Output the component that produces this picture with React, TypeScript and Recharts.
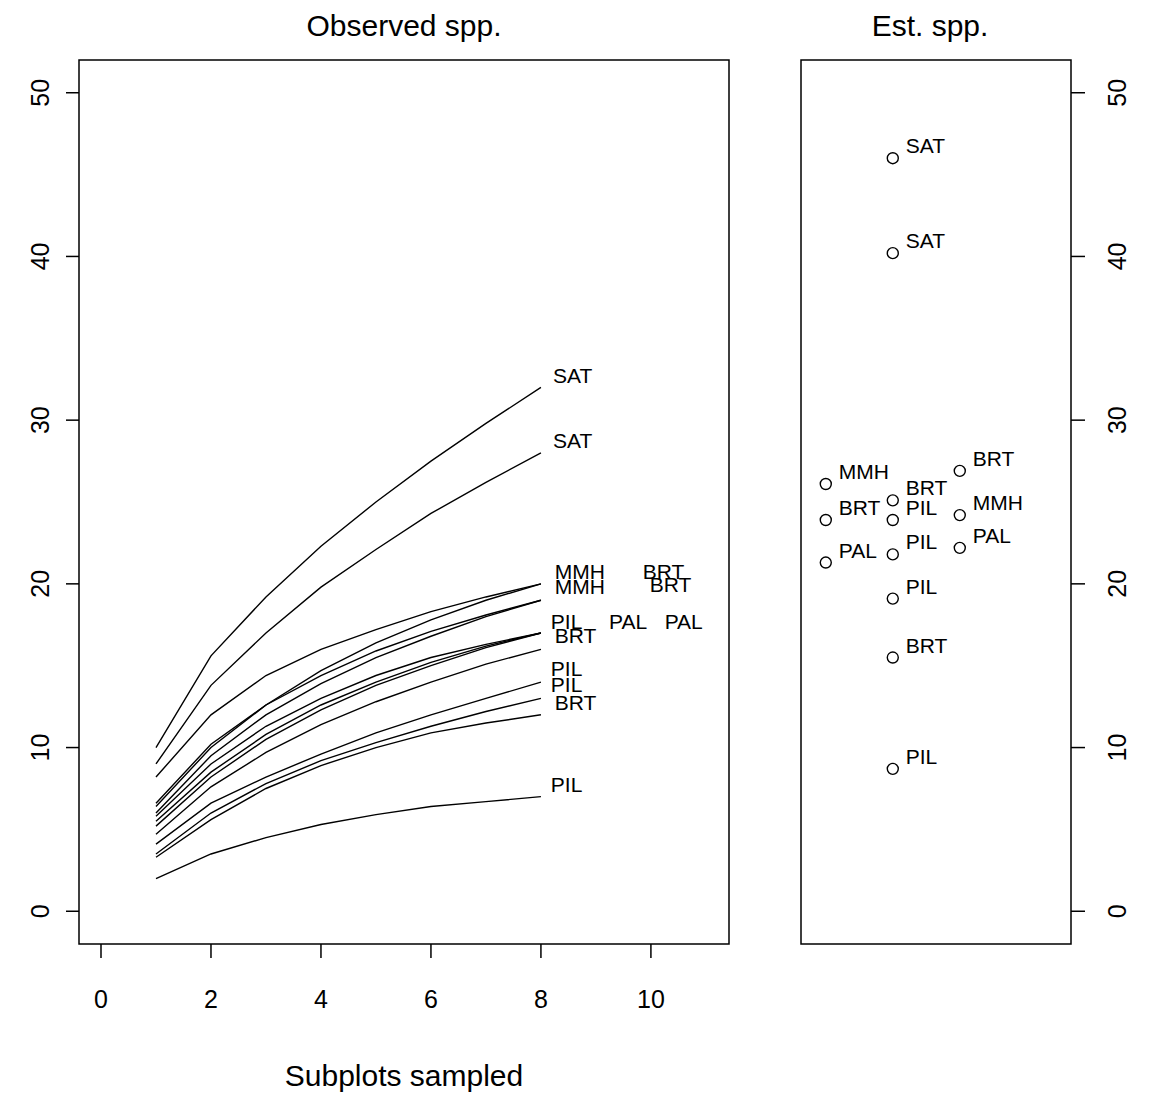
import React from 'react';
import { ComposedChart, Line, XAxis, YAxis, Scatter, ReferenceArea } from 'recharts';

// ---------- data ----------
const subplots = [1, 2, 3, 4, 5, 6, 7, 8];

const curveSAT1 = [10.0, 15.6, 19.2, 22.3, 25.0, 27.5, 29.8, 32.0];
const curveSAT2 = [9.0, 13.8, 17.0, 19.8, 22.1, 24.3, 26.2, 28.0];
const curveA = [6.4, 10.0, 12.6, 14.7, 16.4, 17.8, 19.0, 20.0];
const curveB = [8.2, 12.0, 14.4, 16.0, 17.2, 18.3, 19.2, 20.0];
const curveC = [6.6, 10.2, 12.6, 14.4, 15.9, 17.1, 18.1, 19.0];
const curveD = [6.0, 9.5, 12.0, 13.9, 15.5, 16.8, 18.0, 19.0];
const curveE = [5.8, 9.0, 11.3, 13.0, 14.4, 15.5, 16.3, 17.0];
const curveF = [5.5, 8.5, 10.8, 12.6, 14.0, 15.2, 16.2, 17.0];
const curveG = [5.2, 8.2, 10.5, 12.3, 13.8, 15.0, 16.1, 17.0];
const curveH = [4.7, 7.6, 9.7, 11.4, 12.8, 14.0, 15.1, 16.0];
const curveI = [4.1, 6.6, 8.2, 9.6, 10.9, 12.0, 13.0, 14.0];
const curveJ = [3.5, 6.0, 7.8, 9.2, 10.3, 11.3, 12.2, 13.0];
const curveK = [3.3, 5.6, 7.5, 8.9, 10.0, 10.9, 11.5, 12.0];
const curveL = [2.0, 3.5, 4.5, 5.3, 5.9, 6.4, 6.7, 7.0];

const curves = [curveSAT1, curveSAT2, curveA, curveB, curveC, curveD, curveE, curveF, curveG, curveH, curveI, curveJ, curveK, curveL];

const obsLabelText = ['SAT', 'SAT', 'MMH', 'MMH', 'BRT', 'BRT', 'PIL', 'PAL', 'PAL', 'BRT', 'PIL', 'PIL', 'BRT', 'PIL'];
const obsLabelX = [8.22, 8.22, 8.25, 8.25, 9.85, 9.98, 8.18, 9.24, 10.25, 8.25, 8.18, 8.18, 8.25, 8.18];
const obsLabelY = [32.7, 28.7, 20.7, 19.8, 20.7, 19.9, 17.7, 17.7, 17.7, 16.8, 14.8, 13.8, 12.7, 7.7];

const xTicks = [0, 2, 4, 6, 8, 10];
const yTicks = [0, 10, 20, 30, 40, 50];

const estX = [1, 1, 1, 2, 2, 2, 2, 2, 2, 2, 2, 3, 3, 3];
const estY = [26.1, 23.9, 21.3, 46.0, 40.2, 25.1, 23.9, 21.8, 19.1, 15.5, 8.7, 26.9, 24.2, 22.2];
const estLabel = ['MMH', 'BRT', 'PAL', 'SAT', 'SAT', 'BRT', 'PIL', 'PIL', 'PIL', 'BRT', 'PIL', 'BRT', 'MMH', 'PAL'];

// ---------- derived tables ----------
const lineData = subplots.map((s, i) => {
  const row: Record<string, number> = { x: s };
  curves.forEach((c, k) => {
    row['c' + k] = c[i];
  });
  return row;
});
const obsLabels = obsLabelText.map((t, i) => ({ x: obsLabelX[i], y: obsLabelY[i], label: t }));
const estPoints = estLabel.map((t, i) => ({ x: estX[i], y: estY[i], label: t }));

const FONT = '"Liberation Sans", Arial, sans-serif';
const X_DOMAIN: [number, number] = [-0.4, 11.42];
const Y_DOMAIN: [number, number] = [-2, 52];
const EST_X_DOMAIN: [number, number] = [0.63, 4.66];

const LeftYTick = (props: any) => {
  const { x, y, payload } = props;
  return (
    <text
      x={x}
      y={y}
      transform={`rotate(-90, ${x}, ${y})`}
      textAnchor="middle"
      fontSize={25}
      fontFamily={FONT}
      fill="#000"
    >
      {payload.value}
    </text>
  );
};

const RightYTick = (props: any) => {
  const { x, y, payload } = props;
  return (
    <text
      x={x}
      y={y}
      transform={`rotate(-90, ${x}, ${y})`}
      textAnchor="middle"
      dy={25}
      fontSize={25}
      fontFamily={FONT}
      fill="#000"
    >
      {payload.value}
    </text>
  );
};

const XTick = (props: any) => {
  const { x, y, payload } = props;
  return (
    <text x={x} y={y} textAnchor="middle" dy={18} fontSize={25} fontFamily={FONT} fill="#000">
      {payload.value}
    </text>
  );
};

const ObsLabelShape = (props: any) => {
  const { cx, cy, payload } = props;
  if (cx == null || cy == null) return null;
  return (
    <text x={cx} y={cy} dy={7} textAnchor="start" fontSize={21} fontFamily={FONT} fill="#000">
      {payload.label}
    </text>
  );
};

const EstShape = (props: any) => {
  const { cx, cy, payload } = props;
  if (cx == null || cy == null) return null;
  return (
    <g>
      <circle cx={cx} cy={cy} r={5.5} fill="none" stroke="#000" strokeWidth={1.4} />
      <text x={cx + 13} y={cy - 12} dy={7} textAnchor="start" fontSize={21} fontFamily={FONT} fill="#000">
        {payload.label}
      </text>
    </g>
  );
};

export default function App() {
  return (
    <div style={{ position: 'absolute', left: 0, top: 0, width: 1152, height: 1099, background: '#fff', fontFamily: FONT }}>
      <div style={{ position: 'absolute', left: 79, width: 650, top: 8, textAlign: 'center', fontSize: 30, lineHeight: '36px', color: '#000' }}>
        Observed spp.
      </div>
      <div style={{ position: 'absolute', left: 795, width: 270, top: 8, textAlign: 'center', fontSize: 30, lineHeight: '36px', color: '#000' }}>
        Est. spp.
      </div>

      <div style={{ position: 'absolute', left: 0, top: 0 }}>
        <ComposedChart
          width={760}
          height={1099}
          data={lineData}
          margin={{ top: 60, right: 31, left: 19, bottom: 13 }}
        >
          <XAxis
            type="number"
            dataKey="x"
            domain={X_DOMAIN}
            ticks={xTicks}
            allowDataOverflow
            axisLine={false}
            tickLine={{ stroke: '#000', strokeWidth: 1.5 }}
            tickSize={14}
            tickMargin={32}
            tick={<XTick />}
            height={142}
            label={{ value: 'Subplots sampled', position: 'insideBottom', offset: 0, fontSize: 30, fill: '#000', fontFamily: FONT }}
          />
          <YAxis
            type="number"
            domain={Y_DOMAIN}
            ticks={yTicks}
            allowDataOverflow
            axisLine={false}
            tickLine={{ stroke: '#000', strokeWidth: 1.5 }}
            tickSize={13}
            tickMargin={17}
            tick={<LeftYTick />}
            width={60}
          />
          <ReferenceArea
            x1={X_DOMAIN[0]}
            x2={X_DOMAIN[1]}
            y1={Y_DOMAIN[0]}
            y2={Y_DOMAIN[1]}
            fill="none"
            fillOpacity={0}
            stroke="#000"
            strokeWidth={1.5}
            ifOverflow="visible"
          />
          {curves.map((_, k) => (
            <Line
              key={k}
              type="linear"
              dataKey={'c' + k}
              stroke="#000"
              strokeWidth={1.4}
              dot={false}
              activeDot={false}
              isAnimationActive={false}
            />
          ))}
          <Scatter data={obsLabels} dataKey="y" shape={<ObsLabelShape />} isAnimationActive={false} />
        </ComposedChart>
      </div>

      <div style={{ position: 'absolute', left: 760, top: 0 }}>
        <ComposedChart
          width={392}
          height={1099}
          data={estPoints}
          margin={{ top: 60, right: 11, left: 41, bottom: 155 }}
        >
          <XAxis type="number" dataKey="x" domain={EST_X_DOMAIN} hide allowDataOverflow />
          <YAxis
            type="number"
            orientation="right"
            domain={Y_DOMAIN}
            ticks={yTicks}
            allowDataOverflow
            axisLine={false}
            tickLine={{ stroke: '#000', strokeWidth: 1.5 }}
            tickSize={14}
            tickMargin={16}
            tick={<RightYTick />}
            width={70}
          />
          <ReferenceArea
            x1={EST_X_DOMAIN[0]}
            x2={EST_X_DOMAIN[1]}
            y1={Y_DOMAIN[0]}
            y2={Y_DOMAIN[1]}
            fill="none"
            fillOpacity={0}
            stroke="#000"
            strokeWidth={1.5}
            ifOverflow="visible"
          />
          <Scatter data={estPoints} dataKey="y" shape={<EstShape />} isAnimationActive={false} />
        </ComposedChart>
      </div>
    </div>
  );
}
